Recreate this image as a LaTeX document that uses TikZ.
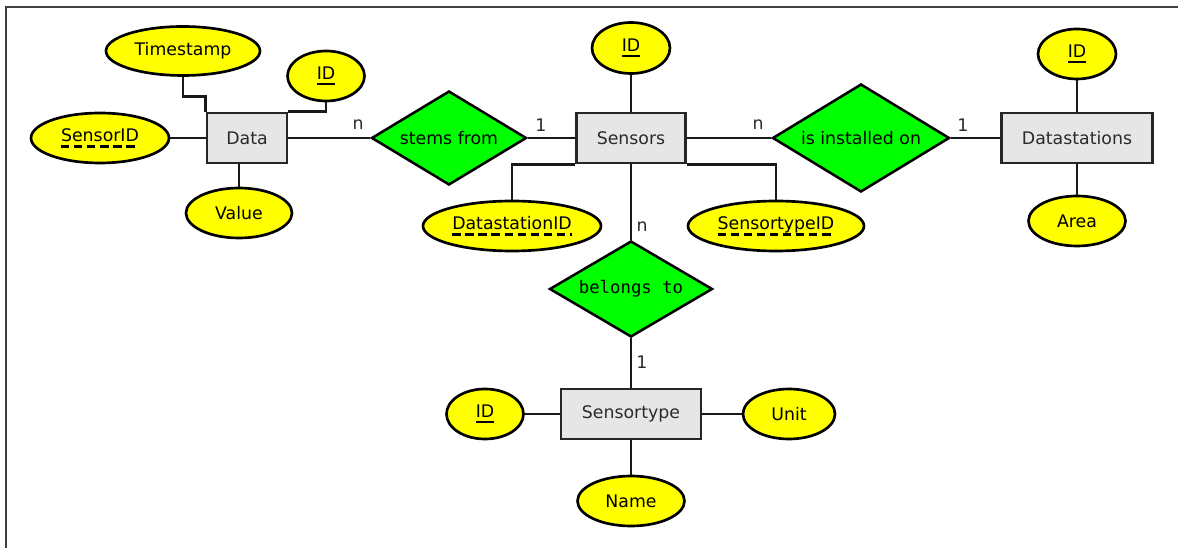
\documentclass[tikz,border=0pt]{standalone}
\usepackage{fontspec}
\setmainfont{DejaVu Sans}
\setmonofont{DejaVu Sans Mono}
\usetikzlibrary{shapes.geometric}
\definecolor{attrY}{HTML}{FFFF00}
\definecolor{relG}{HTML}{00FF00}
\definecolor{entG}{HTML}{E6E6E6}
\definecolor{txtG}{HTML}{2A2A2A}
\newcommand{\ulsolid}[1]{\tikz[baseline=(ulx.base)]{\node[shape=rectangle,draw=none,fill=none,inner sep=0pt,outer sep=0pt,minimum width=0pt,minimum height=0pt](ulx){#1};\draw[line width=1.9pt,black] ([yshift=-3.8pt]ulx.base west) -- ([yshift=-3.8pt]ulx.base east);}}
\newcommand{\uldash}[1]{\tikz[baseline=(ulx.base)]{\node[shape=rectangle,draw=none,fill=none,inner sep=0pt,outer sep=0pt,minimum width=0pt,minimum height=0pt](ulx){#1};\draw[line width=1.9pt,black,dash pattern=on 6.2pt off 3.6pt] ([yshift=-3.8pt]ulx.base west) -- ([yshift=-3.8pt]ulx.base east);}}
\tikzset{
  attr/.style 2 args={ellipse, draw=black, line width=2pt, fill=attrY, inner sep=0pt,
    minimum width=#1*0.75pt, minimum height=#2*0.75pt, text=black},
  ent/.style 2 args={rectangle, draw=black!85, line width=2pt, fill=entG, inner sep=0pt,
    minimum width=#1*0.75pt, minimum height=#2*0.75pt, text=txtG},
  rel/.style n args={3}{diamond, draw=black, line width=1.9pt, fill=relG, inner sep=0pt, aspect=#3,
    minimum width=#1*0.75pt, minimum height=#2*0.75pt, text=black},
  conn/.style={line width=2pt, black!90},
  card/.style={inner sep=0pt, text=txtG},
}
\begin{document}
\begin{tikzpicture}[x=0.75pt,y=-0.75pt,font=\fontsize{13}{15}\selectfont]
\useasboundingbox (0,0) rectangle (1178,548);
\draw[line width=1.3pt, black!75] (6,548) -- (6,7) -- (1178,7);

% Data entity
\node[ent={80}{50}] (data) at (247,138) {Data};
\node[attr={154}{49}] (ts) at (183,51) {Timestamp};
\node[attr={77}{50}] (dataid) at (326,76) {\ulsolid{ID}};
\node[attr={138}{50}] (sid) at (100,138) {\uldash{SensorID}};
\node[attr={106}{50}] (val) at (239,213) {Value};

% Sensors entity
\node[rel={155}{94}{1.65}] (stems) at (449,138) {stems from};
\node[ent={109}{50}] (sens) at (631,138) {Sensors};
\node[attr={78}{51}] (sensid) at (631,48) {\ulsolid{ID}};
\node[attr={178}{50}] (dsid) at (512,226) {\uldash{DatastationID}};
\node[attr={176}{50}] (stid) at (776,226) {\uldash{SensortypeID}};

% Datastations
\node[rel={177}{108}{1.64}] (inst) at (861,138) {is installed on};
\node[ent={151}{50}] (ds) at (1077,138) {Datastations};
\node[attr={78}{50}] (dsidid) at (1077,54) {\ulsolid{ID}};
\node[attr={97}{50}] (area) at (1077,221) {Area};

% Sensortype
\node[rel={163}{96}{1.7}] (bel) at (631,289) {\ttfamily belongs to};
\node[ent={140}{50}] (stype) at (631,414) {Sensortype};
\node[attr={77}{50}] (stidid) at (485,414) {\ulsolid{ID}};
\node[attr={92}{50}] (unit) at (789,414) {Unit};
\node[attr={107}{50}] (name) at (631,501) {Name};

% connectors
\draw[conn] (ts.south) -- ++(0,20) -| (data.north west);
\draw[conn] (dataid.south) |- (data.north east);
\draw[conn] (sid.east) -- (data.west);
\draw[conn] (val.north) -- (val.north |- data.south);
\draw[conn] (data.east) -- (stems.west);
\draw[conn] (stems.east) -- (sens.west);
\draw[conn] (sensid.south) -- (sens.north);
\draw[conn] (dsid.north) |- (sens.south west);
\draw[conn] (stid.north) |- (sens.south east);
\draw[conn] (sens.east) -- (inst.west);
\draw[conn] (inst.east) -- (ds.west);
\draw[conn] (dsidid.south) -- (ds.north);
\draw[conn] (area.north) -- (ds.south);
\draw[conn] (sens.south) -- (bel.north);
\draw[conn] (bel.south) -- (stype.north);
\draw[conn] (stidid.east) -- (stype.west);
\draw[conn] (unit.west) -- (stype.east);
\draw[conn] (name.north) -- (stype.south);

% cardinalities
\node[card] (c1) at (358,125) {n};
\node[card] (c2) at (541,125) {1};
\node[card] (c3) at (758,125) {n};
\node[card] (c4) at (963,125) {1};
\node[card] (c5) at (642,227) {n};
\node[card] (c6) at (642,362) {1};
\end{tikzpicture}
\end{document}
